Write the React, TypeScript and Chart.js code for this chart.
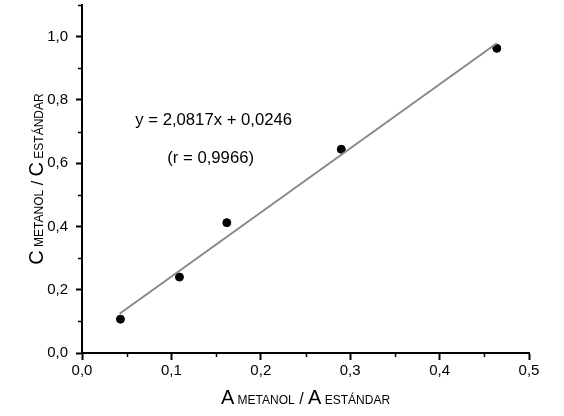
import { useEffect, useRef } from 'react'
import { Chart, registerables } from 'chart.js'

Chart.register(...registerables)

// calibration points
const ratioA = [0.043, 0.109, 0.162, 0.290, 0.464]
const ratioC = [0.107, 0.240, 0.412, 0.644, 0.963]

// fitted line, end points as drawn
const fitX = [0.042, 0.464]
const fitY = [0.124, 0.979]

const yTicks = [0, 0.2, 0.4, 0.6, 0.8, 1.0]
const xTicks = [0, 0.1, 0.2, 0.3, 0.4, 0.5]
const yMinor = [0.1, 0.3, 0.5, 0.7, 0.9, 1.1]
const xMinor = [0.05, 0.15, 0.25, 0.35, 0.45]

const notes = ['y = 2,0817x + 0,0246', '(r = 0,9966)']
const noteX = [0.0596, 0.0954]
const noteY = [0.721, 0.601]

const FONT = "Arial, 'Liberation Sans', sans-serif"

const fmt = (v: number) => v.toFixed(1).replace('.', ',')

type Seg = [string, number]

function drawSegs(ctx: CanvasRenderingContext2D, segs: Seg[], cx: number, cy: number, rot: number) {
  ctx.save()
  ctx.translate(cx, cy)
  ctx.rotate(rot)
  ctx.fillStyle = '#000'
  ctx.textBaseline = 'alphabetic'
  ctx.textAlign = 'left'
  let total = 0
  const widths = segs.map(([t, s]) => {
    ctx.font = `${s}px ${FONT}`
    const w = ctx.measureText(t).width
    total += w
    return w
  })
  let x = -total / 2
  segs.forEach(([t, s], i) => {
    ctx.font = `${s}px ${FONT}`
    ctx.fillText(t, x, 0)
    x += widths[i]
  })
  ctx.restore()
}

const extras = {
  id: 'extras',
  afterDraw(chart: any) {
    const { ctx, chartArea, scales } = chart
    const xs = scales.x
    const ys = scales.y
    // minor ticks
    ctx.save()
    ctx.strokeStyle = '#000'
    ctx.lineWidth = 1.5
    ctx.beginPath()
    xMinor.forEach((v) => {
      const px = Math.round(xs.getPixelForValue(v)) + 0.5
      ctx.moveTo(px, chartArea.bottom)
      ctx.lineTo(px, chartArea.bottom + 4)
    })
    yMinor.forEach((v) => {
      const py = Math.round(ys.getPixelForValue(v)) + 0.5
      ctx.moveTo(chartArea.left, py)
      ctx.lineTo(chartArea.left - 4, py)
    })
    ctx.stroke()
    ctx.restore()

    // fit annotation
    ctx.save()
    ctx.fillStyle = '#000'
    ctx.font = `16.7px ${FONT}`
    ctx.textBaseline = 'alphabetic'
    notes.forEach((t, i) => {
      ctx.fillText(t, xs.getPixelForValue(noteX[i]), ys.getPixelForValue(noteY[i]))
    })
    ctx.restore()

    // axis titles with small-caps subscripts
    const cx = (chartArea.left + chartArea.right) / 2
    drawSegs(ctx, [['A', 20], [' METANOL', 12], [' / ', 16], ['A', 20], [' ESTÁNDAR', 12]], cx, 404, 0)
    const cy = (chartArea.top + chartArea.bottom) / 2
    drawSegs(ctx, [['C', 20], [' METANOL', 12], [' / ', 16], ['C', 20], [' ESTÁNDAR', 12]], 43, cy, -Math.PI / 2)
  },
}

export default function App() {
  const canvasRef = useRef<HTMLCanvasElement>(null)
  const chartRef = useRef<Chart | null>(null)

  useEffect(() => {
    if (!canvasRef.current) return
    chartRef.current?.destroy()

    chartRef.current = new Chart(canvasRef.current, {
      type: 'scatter',
      data: {
        datasets: [
          {
            type: 'line',
            label: 'ajuste',
            data: fitX.map((x, i) => ({ x, y: fitY[i] })),
            borderColor: '#888888',
            borderWidth: 2,
            pointRadius: 0,
            fill: false,
          },
          {
            label: 'metanol',
            data: ratioA.map((x, i) => ({ x, y: ratioC[i] })),
            backgroundColor: '#000',
            borderColor: '#000',
            pointRadius: 4,
          },
        ],
      },
      options: {
        responsive: false,
        animation: false,
        layout: { padding: { left: 0, top: 5, right: 35, bottom: 0 } },
        plugins: { legend: { display: false }, tooltip: { enabled: false } },
        scales: {
          x: {
            type: 'linear',
            min: 0,
            max: 0.5,
            afterFit: (s: any) => { s.height = 63; s.paddingLeft = 0; s.paddingRight = 0 },
            afterBuildTicks: (s: any) => { s.ticks = xTicks.map((value) => ({ value })) },
            grid: { drawOnChartArea: false, drawTicks: true, tickLength: 7, tickWidth: 2, tickColor: '#000' },
            border: { display: true, color: '#000', width: 2 },
            ticks: {
              color: '#000',
              padding: 2,
              maxRotation: 0,
              font: { size: 15, family: FONT },
              callback: (v: any) => fmt(Number(v)),
            },
          },
          y: {
            type: 'linear',
            min: 0,
            max: 1.1,
            afterFit: (s: any) => { s.width = 82; s.paddingTop = 0; s.paddingBottom = 0 },
            afterBuildTicks: (s: any) => { s.ticks = yTicks.map((value) => ({ value })) },
            grid: { drawOnChartArea: false, drawTicks: true, tickLength: 6, tickWidth: 2, tickColor: '#000' },
            border: { display: true, color: '#000', width: 2 },
            ticks: {
              color: '#000',
              padding: 8,
              font: { size: 15, family: FONT },
              callback: (v: any) => fmt(Number(v)),
            },
          },
        },
      },
      plugins: [extras],
    })

    return () => { chartRef.current?.destroy() }
  }, [])

  return (
    <div style={{ position: 'fixed', left: 0, top: 0, width: 564, height: 416, background: '#fff' }}>
      <canvas ref={canvasRef} width={564} height={416} />
    </div>
  )
}
